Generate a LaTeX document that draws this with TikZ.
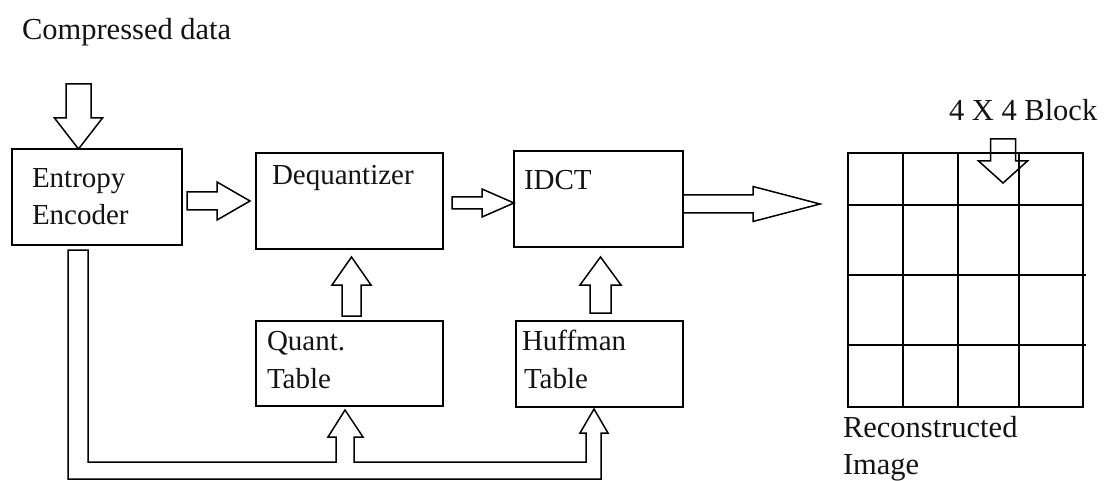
\documentclass[tikz,border=0pt]{standalone}
\usepackage{fontspec}
\setmainfont{Liberation Serif}
\usetikzlibrary{calc}

% hollow block arrow: tail, tip, shaft half-width, head half-width, head length
\newcommand\hollowarrow[6][]{%
  \coordinate (ha-h) at ($(#3)!#6!(#2)$);
  \draw[hollow,#1] ($(#2)!#4!90:(#3)$) -- ($(ha-h)!#4!-90:(#2)$) -- ($(ha-h)!#5!-90:(#2)$)
    -- (#3) -- ($(ha-h)!#5!90:(#2)$) -- ($(ha-h)!#4!90:(#2)$) -- ($(#2)!#4!-90:(#3)$) -- cycle;
}

\begin{document}
\begin{tikzpicture}[x=1pt,y=-1pt,
  every node/.style={inner sep=0pt,outer sep=0pt},
  block/.style={draw=black,line width=1.6pt,rectangle,anchor=north west},
  hollow/.style={draw=black,line width=1.5pt,fill=white,line join=miter},
  gridline/.style={draw=black,line width=1.6pt},
  lbl/.style={anchor=base west,text=black!92,font=\fontsize{29}{34}\selectfont},
  biglbl/.style={anchor=base west,text=black!92,font=\fontsize{30.5}{36}\selectfont}]
\useasboundingbox[fill=white] (0,0) rectangle (1111,481);

% processing blocks
\node[block,minimum width=170pt,minimum height=96pt] (enc) at (12,149) {};
\node[block,minimum width=187pt,minimum height=96pt] (deq) at (256,153) {};
\node[block,minimum width=169pt,minimum height=96pt] (idct) at (514,151) {};
\node[block,minimum width=187pt,minimum height=85pt] (quant) at (256,321) {};
\node[block,minimum width=167pt,minimum height=86pt] (huff) at (516,321) {};

% reconstructed image: 4 x 4 grid of blocks
\node[block,minimum width=235pt,minimum height=254pt] (grid) at (848,153) {};
\foreach \gx in {903,958,1019} \draw[gridline] (\gx,153) -- (\gx,407);
\draw[gridline] (848,205) -- (1083,205);
\draw[gridline] (848,275) -- (1086,275);
\draw[gridline] (848,345) -- (1086,345);

% labels
\node[biglbl] (cdata) at (22,40) {Compressed data};
\node[lbl] (encA) at (32,188) {Entropy};
\node[lbl] (encB) at (32,225) {Encoder};
\node[lbl] (deqT) at (272,185) {Dequantizer};
\node[lbl] (idctT) at (524,190) {IDCT};
\node[lbl] (quantA) at (267,350) {Quant.};
\node[lbl] (quantB) at (267,388) {Table};
\node[lbl] (huffA) at (522,350) {Huffman};
\node[lbl] (huffB) at (524,388) {Table};
\node[biglbl] (blk) at (949,121) {4 X 4 Block};
\node[biglbl] (recA) at (843,437) {Reconstructed};
\node[biglbl] (recB) at (843,474) {Image};

% arrow end points
\coordinate (inT) at (78.5,84);   \coordinate (inH) at (enc.north -| inT);
\coordinate (edT) at (187,201);   \coordinate (edH) at (250,201);
\coordinate (diT) at (452,203);   \coordinate (diH) at (idct.west |- diT);
\coordinate (igT) at (idct.east |- 0,204); \coordinate (igH) at (820,204);
\coordinate (qdT) at (351.5,316); \coordinate (qdH) at (351.5,257);
\coordinate (hiT) at (600.5,313); \coordinate (hiH) at (600.5,257);
\coordinate (bkT) at (1003,139);  \coordinate (bkH) at (1003,183);

\hollowarrow{inT}{inH}{12.5pt}{24pt}{31pt}
\hollowarrow{edT}{edH}{9pt}{19pt}{33pt}
\hollowarrow{diT}{diH}{6pt}{14pt}{32pt}
\hollowarrow{igT}{igH}{9pt}{17.5pt}{67pt}
\hollowarrow{qdT}{qdH}{9.5pt}{19.5pt}{28pt}
\hollowarrow{hiT}{hiH}{10.5pt}{20.5pt}{28pt}
% outline only, the grid stays visible through it
\hollowarrow[fill=none]{bkT}{bkH}{12.5pt}{24.5pt}{22pt}

% coefficient channel from the entropy encoder to both tables
\coordinate (pipe) at (enc.south -| 78,0);
\coordinate (qin) at (quant.south -| 345,0);
\coordinate (hin) at (huff.south -| 594,0);
\draw[hollow,fill=none]
  ($(pipe)+(-10,5)$) -- (68,479) -- (601,479) -- (601,433) -- (608,433) -- ($(hin)+(0,2)$)
  -- (580,433) -- (586,433) -- (586,462) -- (354,462) -- (354,437) -- (363,437)
  -- ($(qin)+(0,4)$) -- (328,437) -- (336,437) -- (336,462) -- (88,462)
  -- ($(pipe)+(10,5)$) -- cycle;
\end{tikzpicture}
\end{document}
